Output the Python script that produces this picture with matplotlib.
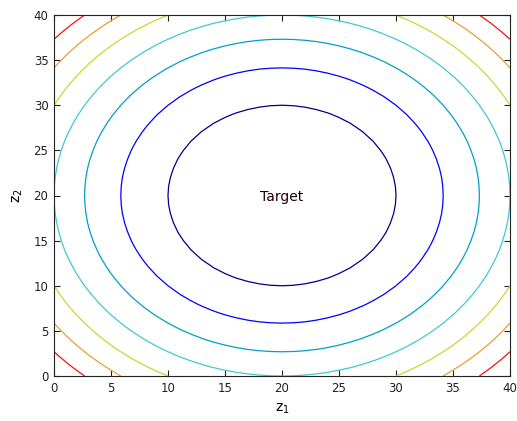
import numpy as np
import matplotlib
matplotlib.use("Agg")
import matplotlib.pyplot as plt

# Target location and the squared-distance field around it
CENTER = (20, 20)
Z1_RANGE = (0, 40)
Z2_RANGE = (0, 40)
LEVELS = [100, 200, 300, 400, 500, 600, 700]
LEVEL_COLORS = ["#00008c", "#0000ff", "#00a0c8", "#40c8d8",
                "#c8d830", "#e8a030", "#ff1010"]
TICKS = [0, 5, 10, 15, 20, 25, 30, 35, 40]

z1 = np.arange(Z1_RANGE[0], Z1_RANGE[1] + 1, 1.0)
z2 = np.arange(Z2_RANGE[0], Z2_RANGE[1] + 1, 1.0)
Z1, Z2 = np.meshgrid(z1, z2)
F = (Z1 - CENTER[0]) ** 2 + (Z2 - CENTER[1]) ** 2

fig = plt.figure(figsize=(5.17, 4.21), dpi=100)
ax = fig.add_axes([54 / 517, 45 / 421, 456 / 517, 361 / 421])

ax.contour(Z1, Z2, F, levels=LEVELS, colors=LEVEL_COLORS, linewidths=0.9)
ax.text(CENTER[0], CENTER[1] - 0.2, "Target", ha="center", va="center",
        fontsize=10, color="#200000")

ax.set_xlim(*Z1_RANGE)
ax.set_ylim(*Z2_RANGE)
ax.set_xticks(TICKS)
ax.set_yticks(TICKS)
ax.tick_params(direction="in", top=True, right=True, labelsize=8.5,
               length=4, width=0.8, colors="#222222", pad=4)
for s in ax.spines.values():
    s.set_linewidth(0.8)
    s.set_color("#222222")

ax.set_xlabel("z$_1$", fontsize=10, labelpad=5)
ax.set_ylabel("z$_2$", fontsize=10, labelpad=6)

fig.savefig("out.png", dpi=100)
